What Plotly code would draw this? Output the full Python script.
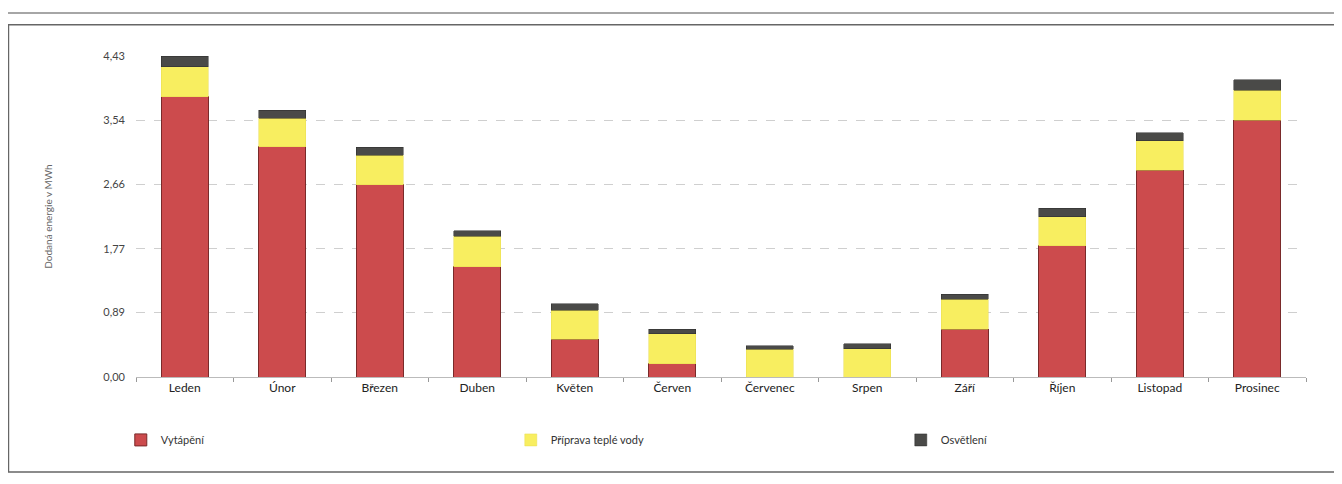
import plotly.graph_objects as go

months = ["Leden", "Únor", "Březen", "Duben", "Květen", "Červen", "Červenec",
          "Srpen", "Září", "Říjen", "Listopad", "Prosinec"]
vytapeni = [3.87, 3.18, 2.65, 1.52, 0.52, 0.18, 0.0, 0.0, 0.66, 1.81, 2.85, 3.54]
priprava_vody = [0.41, 0.39, 0.41, 0.42, 0.40, 0.42, 0.38, 0.39, 0.41, 0.40, 0.41, 0.42]
osvetleni = [0.15, 0.11, 0.11, 0.08, 0.09, 0.06, 0.05, 0.07, 0.07, 0.12, 0.11, 0.14]

y_ticks = [0.0, 0.89, 1.77, 2.66, 3.54, 4.43]
y_tick_labels = ["0,00", "0,89", "1,77", "2,66", "3,54", "4,43"]

font_family = "Lato, 'Open Sans', sans-serif"

fig = go.Figure()
fig.add_trace(go.Bar(x=months, y=vytapeni, name="Vytápění",
                     marker=dict(color="#cc4b4d", line=dict(color="#7a2a2a", width=1))))
fig.add_trace(go.Bar(x=months, y=priprava_vody, name="Příprava teplé vody",
                     marker=dict(color="#f8ee60", line=dict(color="#e8dc50", width=0.5))))
fig.add_trace(go.Bar(x=months, y=osvetleni, name="Osvětlení",
                     marker=dict(color="#4a4a48", line=dict(color="#2a2a2a", width=0.5))))

fig.update_layout(
    barmode="stack",
    bargap=0.52,
    width=1334, height=476,
    paper_bgcolor="white", plot_bgcolor="white",
    margin=dict(l=128, r=36, t=48, b=107, autoexpand=False),
    font=dict(family=font_family, size=12, color="#333333"),
    showlegend=True,
    legend=dict(orientation="h", x=-0.013, xanchor="left", y=-0.196, yanchor="middle",
                entrywidth=345, entrywidthmode="pixels", bgcolor="rgba(0,0,0,0)",
                font=dict(size=11, color="#333333"), traceorder="normal",
                itemwidth=30),
    xaxis=dict(showgrid=False, showline=True, linecolor="#bbbbbb", linewidth=1,
               ticks="outside", tickson="boundaries", ticklen=4, tickcolor="#999999",
               tickfont=dict(size=12, color="#222222")),
    yaxis=dict(range=[0, 4.43], tickvals=y_ticks, ticktext=y_tick_labels,
               showgrid=True, gridcolor="#cfcfcf", griddash="dash", gridwidth=1,
               zeroline=False, showline=False, ticks="", ticklabelstandoff=10,
               tickfont=dict(size=11, color="#444444"),
               title=dict(text="Dodaná energie v MWh", standoff=48,
                          font=dict(size=10, color="#666666"))),
    shapes=[
        dict(type="line", xref="paper", yref="paper", x0=-0.12, x1=1.04,
             y0=1.134, y1=1.134, line=dict(color="#888888", width=1.5)),
        dict(type="rect", xref="paper", yref="paper", x0=-0.109, x1=1.026,
             y0=-0.296, y1=1.097, line=dict(color="#666666", width=1.5)),
    ],
)

fig.write_html("out.html")
